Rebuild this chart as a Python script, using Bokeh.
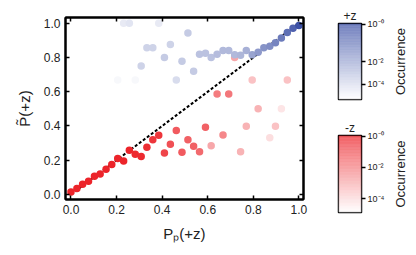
import numpy as np
from bokeh.plotting import figure
from bokeh.layouts import row, column
from bokeh.models import (ColumnDataSource, LinearAxis, FixedTicker, Range1d, Title,
                          PrintfTickFormatter)
from bokeh.transform import linear_cmap
from bokeh.embed import file_html
from bokeh.resources import INLINE

# ---------------- data ----------------
# -z population (red)
neg_x = [0.0, 0.026, 0.051, 0.077, 0.103, 0.128, 0.154, 0.179, 0.205, 0.231, 0.256, 0.282,
         0.308, 0.333, 0.359, 0.385, 0.41, 0.436, 0.462, 0.487, 0.513, 0.538, 0.564, 0.59,
         0.615, 0.641, 0.667, 0.692, 0.718, 0.744, 0.769, 0.795, 0.821, 0.872, 0.897, 0.923, 0.949]
neg_y = [0.015, 0.035, 0.06, 0.078, 0.107, 0.12, 0.148, 0.175, 0.21, 0.196, 0.258, 0.235,
         0.222, 0.276, 0.319, 0.346, 0.243, 0.293, 0.373, 0.247, 0.32, 0.282, 0.25, 0.393,
         0.284, 0.587, 0.348, 0.587, 0.80, 0.25, 0.398, 0.669, 0.5, 0.332, 0.398, 0.5, 0.669]
neg_level = [1.0, 1.0, 1.0, 1.0, 1.0, 1.0, 1.0, 1.0, 1.0, 1.0, 1.0, 0.97,
             0.97, 0.95, 0.92, 0.92, 0.85, 0.8, 0.75, 0.75, 0.72, 0.72, 0.68, 0.72,
             0.4, 0.6, 0.55, 0.62, 0.4, 0.35, 0.35, 0.28, 0.35, 0.15, 0.28, 0.12, 0.28]

# +z population (blue)
pos_x = [0.205, 0.231, 0.256, 0.282, 0.308, 0.333, 0.359, 0.385, 0.41, 0.436, 0.462, 0.487,
         0.513, 0.538, 0.564, 0.59, 0.615, 0.641, 0.667, 0.692, 0.718, 0.744, 0.769, 0.795,
         0.821, 0.846, 0.872, 0.897, 0.923, 0.949, 0.974, 1.0]
pos_y = [0.669, 1.0, 1.0, 0.669, 0.75, 0.857, 0.857, 1.0, 0.80, 0.875, 0.669, 0.777,
         0.943, 0.72, 0.818, 0.824, 0.799, 0.818, 0.841, 0.841, 0.815, 0.812, 0.84, 0.816,
         0.83, 0.857, 0.865, 0.885, 0.914, 0.945, 0.97, 0.987]
pos_level = [0.04, 0.12, 0.15, 0.04, 0.25, 0.25, 0.25, 0.12, 0.3, 0.25, 0.2, 0.3,
             0.3, 0.3, 0.35, 0.35, 0.35, 0.38, 0.4, 0.4, 0.4, 0.42, 0.45, 0.52,
             0.58, 0.62, 0.65, 0.7, 0.75, 0.82, 0.9, 1.0]

diag = [0.0, 1.0]
axis_ticks = [0.0, 0.2, 0.4, 0.6, 0.8, 1.0]

cbar_ticks_pos = [0.99, 0.5, 0.2]
cbar_ticks_neg = [0.99, 0.59, 0.18]
cbar_labels = ["10\u207b\u2070", "10\u207b\u00b2", "10\u207b\u2074"]

# ---------------- colours ----------------
BLUE = (60, 80, 165)
RED = (236, 36, 42)
FONT = "Liberation Sans"
TXT = "#222222"


def ramp(c, n=256):
    out = []
    for t in np.linspace(0, 1, n):
        r, g, b = [int(round(255 * (1 - t) + ci * t)) for ci in c]
        out.append("#%02x%02x%02x" % (r, g, b))
    return out


blue_pal = ramp(BLUE)
red_pal = ramp(RED)

# ---------------- main plot ----------------
p = figure(frame_width=238, frame_height=182,
           x_range=Range1d(-0.024, 1.02), y_range=Range1d(-0.029, 1.033),
           x_axis_location=None, y_axis_location=None,
           output_backend="svg", toolbar_location=None,
           min_border_left=65, min_border_top=17, min_border_right=5, min_border_bottom=48)
p.grid.visible = False
p.outline_line_color = "black"
p.outline_line_width = 2

p.line(diag, diag, line_color="black", line_width=2, line_dash="3 2")

src_neg = ColumnDataSource(dict(x=neg_x, y=neg_y, lvl=neg_level))
src_pos = ColumnDataSource(dict(x=pos_x, y=pos_y, lvl=pos_level))
p.scatter("x", "y", source=src_neg, size=7.5, line_color=None,
          fill_color=linear_cmap("lvl", red_pal, 0, 1))
p.scatter("x", "y", source=src_pos, size=7.5, line_color=None,
          fill_color=linear_cmap("lvl", blue_pal, 0, 1))

bottom_ax = LinearAxis(axis_label="P\u209a(+z)")
left_ax = LinearAxis(axis_label="P\u0303(+z)")
top_ax = LinearAxis()
right_ax = LinearAxis()
p.add_layout(bottom_ax, "below")
p.add_layout(left_ax, "left")
p.add_layout(top_ax, "above")
p.add_layout(right_ax, "right")

for ax in [bottom_ax, left_ax, top_ax, right_ax]:
    ax.ticker = FixedTicker(ticks=axis_ticks)
    ax.formatter = PrintfTickFormatter(format="%.1f")
    ax.major_tick_in = 4
    ax.major_tick_out = 0
    ax.minor_tick_line_color = None
    ax.major_tick_line_width = 1.5
    ax.major_tick_line_color = "black"
    ax.axis_line_color = "black"
    ax.axis_line_width = 2
    ax.major_label_text_font = FONT
    ax.major_label_text_font_size = "12px"
    ax.major_label_text_color = TXT
    ax.major_label_standoff = 5
    ax.axis_label_text_font = FONT
    ax.axis_label_text_font_size = "15px"
    ax.axis_label_text_font_style = "normal"
    ax.axis_label_text_color = TXT
    ax.axis_label_standoff = 8

for ax in [top_ax, right_ax]:
    ax.major_label_overrides = {t: "" for t in axis_ticks}
    ax.major_label_standoff = 0


# ---------------- colour bars ----------------
def make_cbar(pal, ticks, title, fh, top, bottom):
    cb = figure(frame_width=23, frame_height=fh, x_range=Range1d(0, 1), y_range=Range1d(0, 1),
                output_backend="svg", toolbar_location=None,
                x_axis_location=None, y_axis_location=None,
                min_border_left=30, min_border_right=28, min_border_top=top, min_border_bottom=bottom)
    cb.grid.visible = False
    cb.outline_line_color = "black"
    cb.outline_line_width = 1.5
    n = len(pal)
    edges = np.linspace(0, 1, n + 1)
    cb.quad(left=0, right=1, bottom=edges[:-1], top=edges[1:], fill_color=pal, line_color=None)
    ax = LinearAxis(ticker=FixedTicker(ticks=ticks),
                    major_label_overrides={t: l for t, l in zip(ticks, cbar_labels)})
    ax.major_tick_in = 0
    ax.major_tick_out = 4
    ax.major_tick_line_width = 1.5
    ax.minor_tick_line_color = None
    ax.axis_line_color = None
    ax.major_label_text_font = FONT
    ax.major_label_text_font_size = "9px"
    ax.major_label_text_color = TXT
    ax.major_label_standoff = 2
    cb.add_layout(ax, "right")
    cb.add_layout(Title(text=title, align="center", text_font=FONT, text_font_size="12px",
                        text_font_style="normal", text_color=TXT, standoff=1, offset=0),
                  "above")

    # "Occurrence" label: left-axis label of a narrow companion figure (reads bottom-to-top)
    occ = figure(frame_width=1, frame_height=fh, x_range=Range1d(0, 1), y_range=Range1d(0, 1),
                 output_backend="svg", toolbar_location=None,
                 x_axis_location=None, y_axis_location=None,
                 min_border_left=18, min_border_right=0, min_border_top=top, min_border_bottom=bottom)
    occ.grid.visible = False
    occ.outline_line_color = None
    lab = LinearAxis(ticker=FixedTicker(ticks=[]), axis_label="Occurrence")
    lab.axis_line_color = None
    lab.major_tick_line_color = None
    lab.minor_tick_line_color = None
    lab.major_label_standoff = 0
    lab.axis_label_standoff = 3
    lab.axis_label_text_font = FONT
    lab.axis_label_text_font_size = "13px"
    lab.axis_label_text_font_style = "normal"
    lab.axis_label_text_color = TXT
    occ.add_layout(lab, "left")
    occ.add_layout(Title(text=" ", text_font_size="12px", standoff=1, offset=0), "above")
    return row(cb, occ, spacing=0)


cb_pos = make_cbar(blue_pal, cbar_ticks_pos, "+z", 76, 23, 19)
cb_neg = make_cbar(red_pal, cbar_ticks_neg, "-z", 77, 13, 37)

layout = row(p, column(cb_pos, cb_neg, spacing=0), spacing=0)

open("out.html", "w").write(file_html(layout, INLINE))
